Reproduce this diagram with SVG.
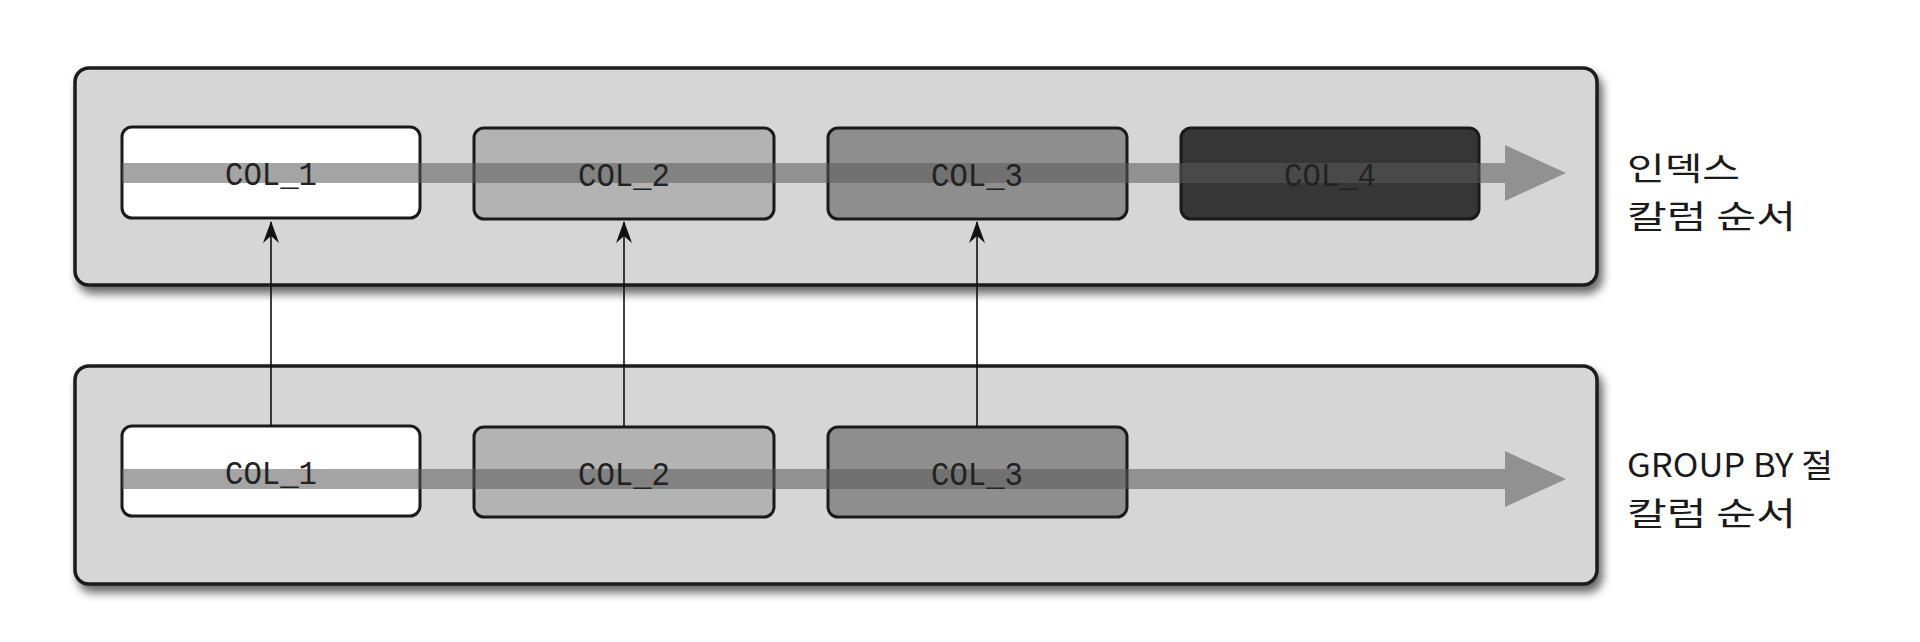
<svg xmlns="http://www.w3.org/2000/svg" width="1920" height="642" viewBox="0 0 1920 642">
<defs>
<style>
.outer{fill:#d6d6d6;stroke:#1a1a1a;stroke-width:3.5}
.col{stroke:#1a1a1a;stroke-width:3}
.band{fill:#5a5a5a;fill-opacity:0.55}
.lbl{font-family:"Liberation Mono","DejaVu Sans Mono",monospace;font-size:34px;fill:#222;text-anchor:middle}
.side{font-family:"Noto Sans CJK KR","Noto Sans",sans-serif;font-size:32px;fill:#1a1a1a}
.conn{stroke:#111;stroke-width:1.6;fill:none}
</style>
<filter id="sh" x="-5%" y="-20%" width="110%" height="140%">
<feGaussianBlur in="SourceAlpha" stdDeviation="5"/>
<feOffset dx="4" dy="7" result="b"/>
<feComponentTransfer><feFuncA type="linear" slope="0.6"/></feComponentTransfer>
<feMerge><feMergeNode/><feMergeNode in="SourceGraphic"/></feMerge>
</filter>
<marker id="ah" viewBox="0 0 22 16" refX="21" refY="8" markerWidth="22" markerHeight="16" markerUnits="userSpaceOnUse" orient="auto">
<path d="M22 8 L0 0 L7 8 L0 16 Z" fill="#111"/>
</marker>
</defs>
<rect width="1920" height="642" fill="#ffffff"/>

<g id="index-panel">
<rect class="outer" x="75" y="68" width="1522" height="217" rx="14" filter="url(#sh)"/>
</g>
<g id="groupby-panel">
<rect class="outer" x="75" y="366" width="1522" height="218" rx="14" filter="url(#sh)"/>
</g>

<g id="idx-col1"><rect class="col" x="122" y="127" width="298" height="91" rx="10" fill="#ffffff"/></g>
<g id="idx-col2"><rect class="col" x="474" y="128" width="300" height="91" rx="10" fill="#b3b3b3"/></g>
<g id="idx-col3"><rect class="col" x="828" y="128" width="299" height="91" rx="10" fill="#8e8e8e"/></g>
<g id="idx-col4"><rect class="col" x="1181" y="128" width="298" height="91" rx="10" fill="#363636"/></g>

<g id="gb-col1"><rect class="col" x="122" y="426" width="298" height="90" rx="10" fill="#ffffff"/></g>
<g id="gb-col2"><rect class="col" x="474" y="427" width="300" height="90" rx="10" fill="#b3b3b3"/></g>
<g id="gb-col3"><rect class="col" x="828" y="427" width="299" height="90" rx="10" fill="#8e8e8e"/></g>

<g id="order-arrows">
<path class="band" d="M122 163 H1505 V145 L1566 173 L1505 201 V183 H122 Z"/>
<path class="band" d="M122 469 H1505 V451 L1566 479 L1505 507 V489 H122 Z"/>
</g>

<g id="col-labels">
<text class="lbl" x="271" y="185" textLength="92" lengthAdjust="spacingAndGlyphs">COL_1</text>
<text class="lbl" x="624" y="186" textLength="92" lengthAdjust="spacingAndGlyphs">COL_2</text>
<text class="lbl" x="977" y="186" textLength="92" lengthAdjust="spacingAndGlyphs">COL_3</text>
<text class="lbl" x="1330" y="186" textLength="92" lengthAdjust="spacingAndGlyphs">COL_4</text>
<text class="lbl" x="271" y="484" textLength="92" lengthAdjust="spacingAndGlyphs">COL_1</text>
<text class="lbl" x="624" y="485" textLength="92" lengthAdjust="spacingAndGlyphs">COL_2</text>
<text class="lbl" x="977" y="485" textLength="92" lengthAdjust="spacingAndGlyphs">COL_3</text>
</g>

<g id="connectors">
<line class="conn" x1="271" y1="426" x2="271" y2="222" marker-end="url(#ah)"/>
<line class="conn" x1="624" y1="427" x2="624" y2="222" marker-end="url(#ah)"/>
<line class="conn" x1="977" y1="427" x2="977" y2="222" marker-end="url(#ah)"/>
</g>

<g id="side-labels">
<text class="side" x="1627" y="180" textLength="113" lengthAdjust="spacingAndGlyphs">인덱스</text>
<text class="side" x="1627" y="228" textLength="169" lengthAdjust="spacingAndGlyphs">칼럼 순서</text>
<text class="side" x="1627" y="477" textLength="206" lengthAdjust="spacingAndGlyphs">GROUP BY 절</text>
<text class="side" x="1627" y="525" textLength="169" lengthAdjust="spacingAndGlyphs">칼럼 순서</text>
</g>
</svg>
